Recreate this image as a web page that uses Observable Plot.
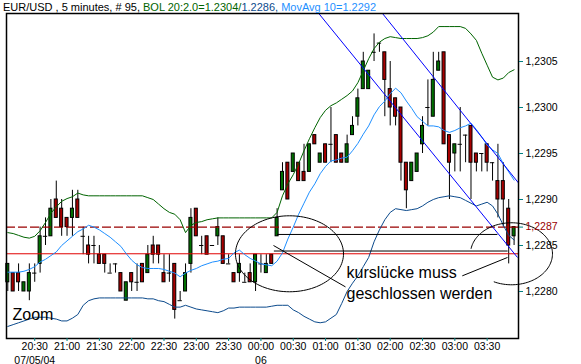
<!DOCTYPE html>
<html><head><meta charset="utf-8">
<script src="https://cdn.jsdelivr.net/npm/d3@7"></script>
<script src="https://cdn.jsdelivr.net/npm/@observablehq/plot@0.6"></script>
<style>
body{margin:0;background:#fff;}
#wrap{position:relative;width:581px;height:364px;overflow:hidden;}
#title{position:absolute;left:3px;top:1px;font-family:"Liberation Sans",Arial,sans-serif;font-size:11px;line-height:13px;white-space:nowrap;z-index:2;}
</style></head><body>
<div id="wrap"><div id="title"></div></div>
<script>
// 07/05/04 (July 5, 2004) 20:05, 5-minute candles
const start = Date.UTC(2004, 6, 5, 20, 5);
const stepMin = 5;

const open = [1.2281,1.2282,1.2282,1.2280,1.2280,1.2282,1.2283,1.2286,1.2286,1.2290,
 1.2289,1.2288,1.2288,1.2290,1.2286,1.2285,1.2285,1.2284,1.2284,1.2282,
 1.2283,1.2282,1.2279,1.2282,1.2281,1.2283,1.2282,1.2285,1.2285,1.2282,
 1.2282,1.2283,1.2279,1.2280,1.2283,1.2289,1.2285,1.2286,1.2285,1.2286,
 1.2286,1.2283,1.2282,1.2282,1.2281,1.2282,1.2281,1.2283,1.2282,1.2284,
 1.2286,1.2291,1.2294,1.2293,1.2294,1.2293,1.2293,1.2297,1.2294,1.2296,
 1.2296,1.2297,1.2295,1.2294,1.2297,1.2299,1.2302,1.2302,1.2306,1.2307,
 1.2306,1.2302,1.2301,1.2300,1.2294,1.2292,1.2293,1.2296,1.2300,1.2299,
 1.2304,1.2306,1.2297,1.2295,1.2296,1.2297,1.2298,1.2295,1.2295,1.2296,
 1.2294,1.2292,1.2292,1.2289,1.2286];
const high = [1.2283,1.2282,1.2283,1.2281,1.2283,1.2283,1.2287,1.2288,1.2290,1.2292,
 1.2290,1.2288,1.2291,1.2291,1.2287,1.2286,1.2286,1.2285,1.2284,1.2283,
 1.2283,1.2282,1.2281,1.2282,1.2283,1.2283,1.2285,1.2286,1.2285,1.2284,
 1.2284,1.2283,1.2280,1.2283,1.2289,1.2289,1.2286,1.2286,1.2285,1.2288,
 1.2286,1.2284,1.2282,1.2284,1.2282,1.2283,1.2284,1.2284,1.2284,1.2284,
 1.2289,1.2294,1.2294,1.2295,1.2294,1.2296,1.2296,1.2297,1.2295,1.2296,
 1.2300,1.2297,1.2295,1.2297,1.2299,1.2302,1.2306,1.2304,1.2308,1.2307,
 1.2306,1.2305,1.2301,1.2300,1.2294,1.2294,1.2295,1.2299,1.2303,1.2306,
 1.2306,1.2306,1.2297,1.2296,1.2300,1.2297,1.2298,1.2295,1.2295,1.2296,
 1.2294,1.2296,1.2294,1.2290,1.2287];
const low = [1.2280,1.2280,1.2280,1.2280,1.2279,1.2281,1.2282,1.2285,1.2286,1.2288,
 1.2286,1.2286,1.2286,1.2288,1.2284,1.2283,1.2283,1.2283,1.2282,1.2282,
 1.2282,1.2280,1.2279,1.2280,1.2280,1.2281,1.2282,1.2283,1.2283,1.2281,
 1.2281,1.2277,1.2279,1.2280,1.2282,1.2286,1.2284,1.2284,1.2285,1.2285,
 1.2283,1.2283,1.2281,1.2281,1.2281,1.2281,1.2280,1.2282,1.2282,1.2283,
 1.2286,1.2291,1.2290,1.2293,1.2292,1.2292,1.2293,1.2296,1.2294,1.2294,
 1.2294,1.2294,1.2294,1.2294,1.2297,1.2298,1.2302,1.2302,1.2305,1.2306,
 1.2299,1.2298,1.2298,1.2292,1.2289,1.2292,1.2293,1.2295,1.2298,1.2299,
 1.2304,1.2296,1.2290,1.2293,1.2293,1.2294,1.2290,1.2293,1.2293,1.2293,
 1.2292,1.2288,1.2287,1.2283,1.2285];
const close = [1.2283,1.2280,1.2281,1.2281,1.2282,1.2282,1.2286,1.2286,1.2289,1.2288,
 1.2287,1.2287,1.2289,1.2288,1.2286,1.2284,1.2285,1.2283,1.2283,1.2282,
 1.2283,1.2280,1.2281,1.2281,1.2281,1.2281,1.2284,1.2284,1.2284,1.2281,
 1.2282,1.2278,1.2279,1.2282,1.2288,1.2286,1.2285,1.2284,1.2285,1.2287,
 1.2283,1.2283,1.2281,1.2283,1.2281,1.2281,1.2284,1.2283,1.2283,1.2283,
 1.2288,1.2293,1.2290,1.2295,1.2292,1.2292,1.2296,1.2296,1.2295,1.2294,
 1.2296,1.2294,1.2294,1.2296,1.2298,1.2301,1.2305,1.2304,1.2306,1.2307,
 1.2303,1.2300,1.2299,1.2294,1.2291,1.2294,1.2295,1.2298,1.2300,1.2303,
 1.2305,1.2296,1.2294,1.2296,1.2296,1.2297,1.2294,1.2294,1.2295,1.2294,
 1.2294,1.2290,1.2290,1.2285,1.2287];

const bolUpper = [1.22864,1.22863,1.22861,1.22859,1.22858,1.22860,1.22866,1.22875,1.22885,1.22892,
 1.22898,1.22901,1.22903,1.22907,1.22905,1.22904,1.22904,1.22904,1.22904,1.22904,
 1.22904,1.22904,1.22904,1.22904,1.22904,1.22904,1.22902,1.22900,1.22895,1.22890,
 1.22886,1.22884,1.22878,1.22864,1.22872,1.22875,1.22876,1.22878,1.22879,1.22880,
 1.22880,1.22880,1.22880,1.22880,1.22880,1.22880,1.22880,1.22880,1.22880,1.22880,
 1.22886,1.22904,1.22917,1.22927,1.22939,1.22953,1.22966,1.22978,1.22989,1.22997,
 1.23002,1.23005,1.23009,1.23013,1.23018,1.23027,1.23040,1.23053,1.23064,1.23071,
 1.23075,1.23077,1.23076,1.23075,1.23075,1.23075,1.23075,1.23076,1.23078,1.23082,
 1.23088,1.23088,1.23088,1.23088,1.23088,1.23086,1.23080,1.23073,1.23059,1.23046,
 1.23033,1.23030,1.23032,1.23038,1.23041];
const movAvg = [1.22821,1.22821,1.22821,1.22822,1.22824,1.22827,1.22832,1.22835,1.22839,1.22843,
 1.22850,1.22855,1.22860,1.22865,1.22868,1.22872,1.22870,1.22867,1.22863,1.22859,
 1.22854,1.22849,1.22841,1.22834,1.22829,1.22826,1.22825,1.22825,1.22825,1.22824,
 1.22822,1.22820,1.22816,1.22820,1.22823,1.22825,1.22828,1.22830,1.22832,1.22833,
 1.22835,1.22836,1.22842,1.22845,1.22840,1.22836,1.22833,1.22830,1.22829,1.22828,
 1.22833,1.22842,1.22857,1.22870,1.22884,1.22896,1.22908,1.22917,1.22928,1.22936,
 1.22942,1.22943,1.22945,1.22946,1.22953,1.22961,1.22971,1.22980,1.22992,1.23001,
 1.23007,1.23015,1.23021,1.23016,1.23007,1.22999,1.22990,1.22985,1.22980,1.22980,
 1.22979,1.22975,1.22973,1.22975,1.22978,1.22980,1.22983,1.22976,1.22968,1.22959,
 1.22954,1.22950,1.22939,1.22930,1.22921];
const bolLower = [1.22762,1.22764,1.22766,1.22768,1.22770,1.22772,1.22772,1.22772,1.22771,1.22770,
 1.22768,1.22768,1.22771,1.22775,1.22785,1.22790,1.22792,1.22793,1.22793,1.22793,
 1.22793,1.22793,1.22793,1.22793,1.22793,1.22793,1.22792,1.22792,1.22790,1.22789,
 1.22786,1.22783,1.22783,1.22785,1.22783,1.22781,1.22780,1.22779,1.22778,1.22777,
 1.22779,1.22782,1.22782,1.22783,1.22783,1.22783,1.22783,1.22783,1.22783,1.22784,
 1.22785,1.22785,1.22785,1.22780,1.22777,1.22773,1.22770,1.22767,1.22766,1.22767,
 1.22771,1.22775,1.22787,1.22800,1.22809,1.22817,1.22827,1.22837,1.22854,1.22867,
 1.22878,1.22886,1.22890,1.22889,1.22888,1.22889,1.22890,1.22893,1.22897,1.22900,
 1.22902,1.22903,1.22904,1.22903,1.22902,1.22899,1.22896,1.22893,1.22895,1.22897,
 1.22893,1.22884,1.22872,1.22861,1.22856];

const timeTicks = ["20:30","21:00","21:30","22:00","22:30","23:00","23:30","00:00","00:30","01:00","01:30","02:00","02:30","03:00","03:30"];
const dateLabels = [{time: "20:30", label: "07/05/04"}, {time: "00:00", label: "06"}];
const priceTicks = [1.2280, 1.2285, 1.2290, 1.2295, 1.2300, 1.2305];
const lastPrice = 1.2287;
const gapLevel = 1.22841;

const titleParts = [
  {text: "EUR/USD , 5 minutes, # 95, ", color: "#000000"},
  {text: "BOL 20:2.0=1.2304/", color: "#006400"},
  {text: "1.2286, ", color: "#0b4a8c"},
  {text: "MovAvg 10=1.2292", color: "#1e8fff"}
];

// annotations (candle index, price)
const trendLines = [
  {i1: 57.74, p1: 1.231022, i2: 94.63, p2: 1.22837},
  {i1: 69.57, p1: 1.231022, i2: 94.82, p2: 1.22918}
];
const blackLines = [
  {i1: 50.0, p1: 1.22862, i2: 90.9, p2: 1.22862},
  {i1: 49.4, p1: 1.22844, i2: 92.8, p2: 1.22844},
  {i1: 49.33, p1: 1.22850, i2: 62.70, p2: 1.22805},
  {i1: 84.38, p1: 1.22817, i2: 92.78, p2: 1.22837}
];
const ellipses = [
  {ci: 52.30, cp: 1.22841, ri: 10.03, rp: 0.000413, a0: 0, a1: 360},
  {ci: 93.52, cp: 1.22841, ri: 7.61, rp: 0.000337, a0: 190, a1: 475}
];
const notes = [
  {i: 62.89, p: 1.22815, text: "kurslücke muss"},
  {i: 62.89, p: 1.22792, text: "geschlossen werden"}
];

const MS = 60000;
const toTime = i => new Date(start + i * stepMin * MS);
const fmt = d3.utcFormat("%H:%M");
const candles = open.map((o, i) => ({t: toTime(i), open: o, high: high[i], low: low[i], close: close[i],
  upper: bolUpper[i], lower: bolLower[i], ma: movAvg[i]}));
const up = candles.filter(d => d.close > d.open);
const down = candles.filter(d => d.close < d.open);
const flat = candles.filter(d => d.close === d.open);
const tickTime = s => candles.find(d => fmt(d.t) === s).t;
const tickDates = timeTicks.map(tickTime);
const hb = 1.4 * MS;

const ellipsePts = ellipses.map(e => d3.range(121).map(k => {
  const a = (e.a0 + (e.a1 - e.a0) * k / 120) * Math.PI / 180;
  return {t: toTime(e.ci + e.ri * Math.cos(a)), p: e.cp - e.rp * Math.sin(a)};
}));

const title = document.getElementById("title");
for (const part of titleParts) {
  const s = document.createElement("span");
  s.textContent = part.text; s.style.color = part.color;
  title.appendChild(s);
}

const body = (data, fill) => Plot.rect(data, {
  x1: d => new Date(+d.t - hb), x2: d => new Date(+d.t + hb),
  y1: d => Math.max(d.open, d.close), y2: d => Math.min(d.open, d.close),
  fill, stroke: "black", strokeWidth: 1
});

const chart = Plot.plot({
  width: 581, height: 364,
  marginLeft: 6, marginRight: 63, marginTop: 13, marginBottom: 26,
  style: {fontFamily: "'Liberation Sans', Arial, sans-serif", fontSize: "10.5px", background: "white", color: "black"},
  x: {type: "utc", domain: [toTime(-0.241), toTime(94.82)], label: null},
  y: {domain: [1.227489, 1.231022], label: null},
  marks: [
    Plot.ruleX(candles, {x: "t", y1: "low", y2: "high", stroke: "black", strokeWidth: 1}),
    body(up, "#007000"),
    body(down, "#a80000"),
    Plot.ruleY(flat, {y: "open", x1: d => new Date(+d.t - 2 * MS), x2: d => new Date(+d.t + 2 * MS), stroke: "black"}),
    Plot.ruleY([gapLevel], {stroke: "#e00000", strokeWidth: 1}),
    Plot.ruleY([lastPrice], {stroke: "#990000", strokeWidth: 1.2, strokeDasharray: "9,3"}),
    Plot.line(candles, {x: "t", y: "upper", stroke: "#006400", strokeWidth: 1}),
    Plot.line(candles, {x: "t", y: "lower", stroke: "#0b4a8c", strokeWidth: 1}),
    Plot.line(candles, {x: "t", y: "ma", stroke: "#1e8fff", strokeWidth: 1}),
    Plot.link(trendLines, {x1: d => toTime(d.i1), y1: "p1", x2: d => toTime(d.i2), y2: "p2", stroke: "#0000ff", strokeWidth: 1}),
    Plot.link(blackLines, {x1: d => toTime(d.i1), y1: "p1", x2: d => toTime(d.i2), y2: "p2", stroke: "black", strokeWidth: 1}),
    ...ellipsePts.map(pts => Plot.line(pts, {x: "t", y: "p", stroke: "black", strokeWidth: 1})),
    Plot.text(notes, {x: d => toTime(d.i), y: "p", text: "text", textAnchor: "start", lineAnchor: "bottom", fontSize: 16, fill: "black"}),
    Plot.text(["Zoom"], {text: d => d, frameAnchor: "bottom-left", dx: 6, dy: -19, textAnchor: "start", lineAnchor: "bottom", fontSize: 16, fill: "black"}),
    Plot.frame({stroke: "black", strokeWidth: 1.5}),
    Plot.axisX({ticks: tickDates, tickFormat: fmt, tickSize: 3, tickPadding: 1.5, stroke: "#008080", fill: "black", label: null}),
    Plot.text(dateLabels, {x: d => tickTime(d.time), text: "label", frameAnchor: "bottom", dy: 25, lineAnchor: "bottom", fill: "black"}),
    Plot.axisY({anchor: "right", ticks: priceTicks, tickFormat: d => d.toFixed(4).replace(".", ","), tickSize: 4, tickPadding: 3, stroke: "#008080", fill: "black", label: null}),
    Plot.axisY({anchor: "right", ticks: [lastPrice], tickFormat: d => d.toFixed(4).replace(".", ","), tickSize: 4, tickPadding: 3, stroke: "#008080", fill: "#990000", label: null})
  ]
});
document.getElementById("wrap").appendChild(chart);
</script>
</body></html>
